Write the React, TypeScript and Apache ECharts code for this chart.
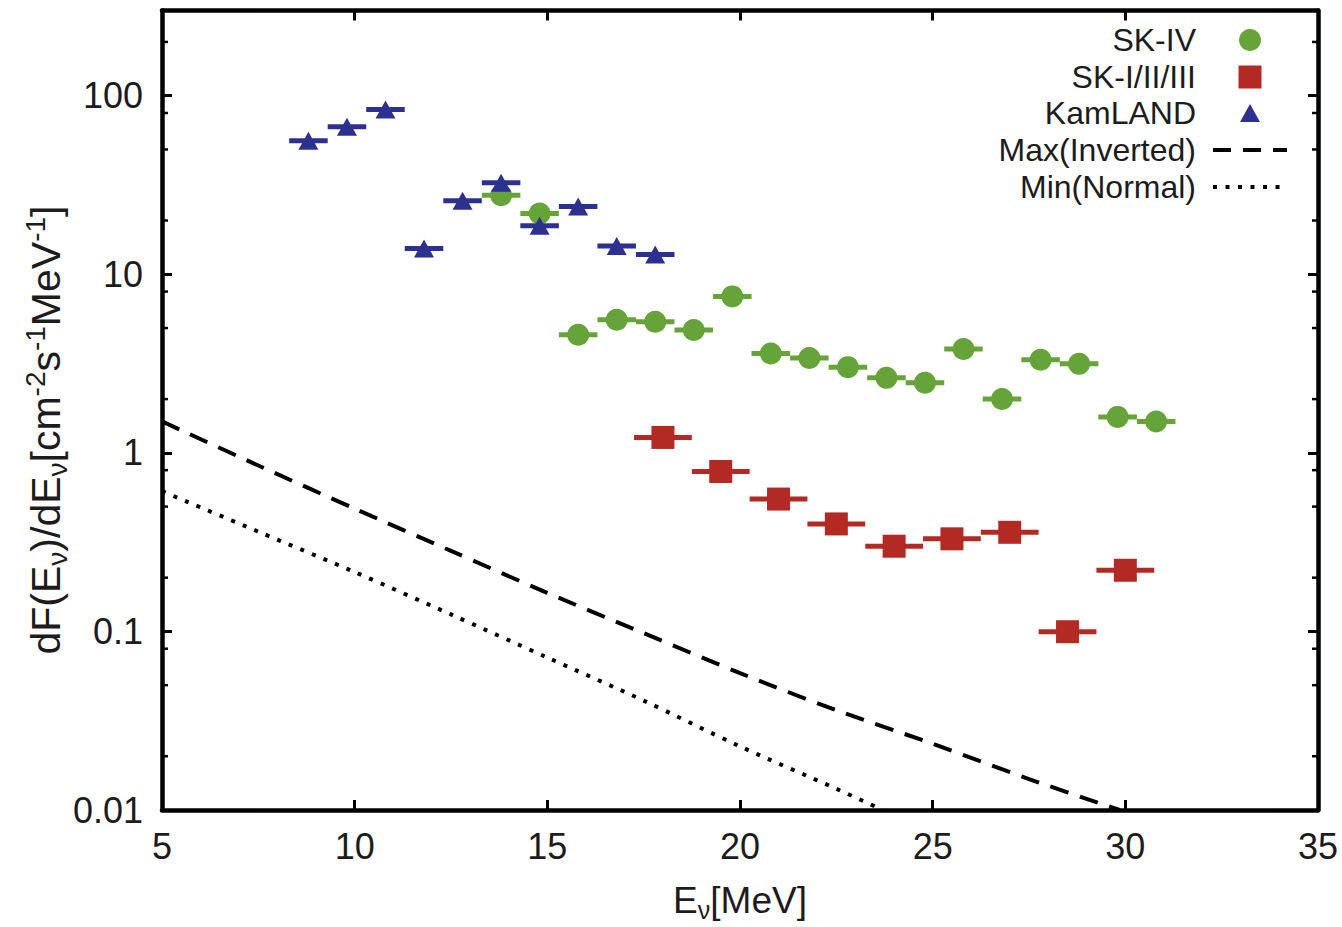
import React, { useEffect, useRef } from 'react';
import * as echarts from 'echarts';

// SK-IV bins (1 MeV wide)
const skIVEnergy = [13.8, 14.8, 15.8, 16.8, 17.8, 18.8, 19.8, 20.8, 21.8, 22.8, 23.8, 24.8, 25.8, 26.8, 27.8, 28.8, 29.8, 30.8];
const skIVFlux = [27.7, 21.9, 4.59, 5.57, 5.42, 4.87, 7.52, 3.6, 3.4, 3.02, 2.63, 2.47, 3.82, 2.0, 3.32, 3.15, 1.59, 1.5];
const skIVHalfBin = 0.5;

// SK-I/II/III bins (1.5 MeV wide)
const skOldEnergy = [18, 19.5, 21, 22.5, 24, 25.5, 27, 28.5, 30];
const skOldFlux = [1.22, 0.786, 0.551, 0.4, 0.3, 0.33, 0.359, 0.0996, 0.22];
const skOldHalfBin = 0.75;

// KamLAND bins (1 MeV wide)
const kamlandEnergy = [8.8, 9.8, 10.8, 11.8, 12.8, 13.8, 14.8, 15.8, 16.8, 17.8];
const kamlandFlux = [56.0, 67.0, 83.8, 13.96, 25.8, 32.5, 18.7, 24.0, 14.4, 12.9];
const kamlandHalfBin = 0.5;

// Predicted spectra
const maxInvEnergy = [5, 7.5, 10, 12.5, 15, 17.5, 20, 22.5, 25, 27.5, 29.85];
const maxInvFlux = [1.5, 0.849, 0.487, 0.2826, 0.1644, 0.0978, 0.0584, 0.0362, 0.0235, 0.0149, 0.01];
const minNormEnergy = [5, 7.5, 10, 12.5, 15, 17.5, 20, 22.5, 23.7];
const minNormFlux = [0.61, 0.362, 0.215, 0.1245, 0.0714, 0.041, 0.0227, 0.01315, 0.01];

// Axes
const xMin = 5;
const xMax = 35;
const xStep = 5;
const yMin = 0.01;
const yMax = 300;
const yDecades = [0.01, 0.1, 1, 10, 100];
const yTickLabels = ['0.01', '0.1', '1', '10', '100'];
const yMinorTicks = [0.02, 0.05, 0.08, 0.2, 0.5, 0.8, 2, 5, 8, 20, 50, 80, 200];

// Key entries
const keyLabels = ['SK-IV', 'SK-I/II/III', 'KamLAND', 'Max(Inverted)', 'Min(Normal)'];

const GREEN = '#66a43a';
const RED = '#b22a23';
const BLUE = '#2c3190';
const FONT = "'Liberation Sans', Arial, Helvetica, sans-serif";
const TEXT = '#1c1c1c';
const DASH = [19, 12];
const DOT = [4, 8.5];

function errorBars(name: string, xs: number[], ys: number[], half: number, color: string, z: number) {
  return {
    type: 'custom',
    name,
    z,
    silent: true,
    data: xs.map((x, i) => [x, ys[i]]),
    encode: { x: 0, y: 1 },
    renderItem: (_p: any, api: any) => {
      const x = api.value(0);
      const y = api.value(1);
      const a = api.coord([x - half, y]);
      const b = api.coord([x + half, y]);
      return {
        type: 'line',
        shape: { x1: a[0], y1: a[1], x2: b[0], y2: b[1] },
        style: { stroke: color, lineWidth: 5 },
      };
    },
  };
}

// Key drawn at the top right: right-aligned text, marker or line sample to its right
function buildKey() {
  const textRight = 1196;
  const iconCx = 1250;
  const rowY = [40, 77, 113, 150, 187];
  const items: any[] = keyLabels.map((label, i) => ({
    type: 'text',
    x: textRight,
    y: rowY[i],
    style: { text: label, fontSize: 32, fontFamily: FONT, fill: TEXT, align: 'right', verticalAlign: 'middle' },
  }));
  items.push(
    { type: 'circle', shape: { cx: iconCx, cy: rowY[0], r: 11 }, style: { fill: GREEN } },
    { type: 'rect', shape: { x: iconCx - 11.5, y: rowY[1] - 11.5, width: 23, height: 23 }, style: { fill: RED } },
    {
      type: 'polygon',
      shape: { points: [[iconCx - 10, rowY[2] + 9], [iconCx + 10, rowY[2] + 9], [iconCx, rowY[2] - 9]] },
      style: { fill: BLUE },
    },
    {
      type: 'line',
      shape: { x1: iconCx - 37, y1: rowY[3], x2: iconCx + 37, y2: rowY[3] },
      style: { stroke: '#000', lineWidth: 4, lineDash: [18, 12] },
    },
    {
      type: 'line',
      shape: { x1: iconCx - 37, y1: rowY[4], x2: iconCx + 35, y2: rowY[4] },
      style: { stroke: '#000', lineWidth: 4, lineDash: DOT },
    }
  );
  return items;
}

export default function App() {
  const ref = useRef<HTMLDivElement>(null);

  useEffect(() => {
    if (!ref.current) return;
    const chart = echarts.init(ref.current, undefined, { renderer: 'svg' });

    const axisLine = { show: true, onZero: false, lineStyle: { color: '#000', width: 4.5 } };
    const tick = { show: true, inside: true, length: 10, lineStyle: { color: '#000', width: 3 } };

    const yLabel = (v: number) => {
      const i = yDecades.findIndex((d) => Math.abs(Math.log10(d) - Math.log10(v)) < 1e-6);
      return i >= 0 ? yTickLabels[i] : '';
    };

    chart.setOption({
      animation: false,
      backgroundColor: '#fff',
      textStyle: { fontFamily: FONT },
      grid: { left: 162, right: 24, top: 10.5, bottom: 113.5 },
      xAxis: [
        {
          type: 'value',
          min: xMin,
          max: xMax,
          interval: xStep,
          position: 'bottom',
          axisLine,
          axisTick: tick,
          splitLine: { show: false },
          axisLabel: { fontSize: 36, color: TEXT, margin: 18, fontFamily: FONT },
          name: '{n|E}{s|ν}{n|[MeV]}',
          nameLocation: 'middle',
          nameGap: 68,
          nameTextStyle: {
            rich: {
              n: { fontSize: 37, lineHeight: 44, verticalAlign: 'middle', color: TEXT, fontFamily: FONT },
              s: { fontSize: 25, lineHeight: 25, verticalAlign: 'bottom', color: TEXT, fontFamily: FONT },
            },
          },
        },
        {
          type: 'value',
          min: xMin,
          max: xMax,
          interval: xStep,
          position: 'top',
          axisLine,
          axisTick: tick,
          splitLine: { show: false },
          axisLabel: { show: false },
        },
      ],
      yAxis: [
        {
          type: 'log',
          logBase: 10,
          min: yMin,
          max: yMax,
          position: 'left',
          axisLine,
          axisTick: tick,
          splitLine: { show: false },
          minorTick: { show: false },
          axisLabel: { fontSize: 36, color: TEXT, margin: 19, formatter: yLabel, fontFamily: FONT },
        },
        {
          type: 'log',
          logBase: 10,
          min: yMin,
          max: yMax,
          position: 'right',
          axisLine,
          axisTick: tick,
          splitLine: { show: false },
          axisLabel: { show: false },
        },
      ],
      graphic: [
        {
          type: 'text',
          x: 46,
          y: 430,
          rotation: Math.PI / 2,
          style: {
            text: '{n|dF(E}{s|ν}{n|)/dE}{s|ν}{n|[cm}{p|-2}{n|s}{p|-1}{n|MeV}{p|-1}{n|]}',
            align: 'center',
            verticalAlign: 'middle',
            rich: {
              n: { fontSize: 41, lineHeight: 50, verticalAlign: 'middle', fill: TEXT, fontFamily: FONT },
              s: { fontSize: 28, lineHeight: 28, verticalAlign: 'bottom', fill: TEXT, fontFamily: FONT },
              p: { fontSize: 28, lineHeight: 28, verticalAlign: 'top', fill: TEXT, fontFamily: FONT },
            },
          },
        },
        ...buildKey(),
      ],
      series: [
        {
          type: 'line',
          name: 'Max(Inverted)',
          data: maxInvEnergy.map((x, i) => [x, maxInvFlux[i]]),
          showSymbol: false,
          symbol: 'none',
          smooth: 0.3,
          z: 1,
          lineStyle: { color: '#000', width: 4, type: DASH, cap: 'butt' },
        },
        {
          type: 'line',
          name: 'Min(Normal)',
          data: minNormEnergy.map((x, i) => [x, minNormFlux[i]]),
          showSymbol: false,
          symbol: 'none',
          smooth: 0.3,
          z: 1,
          lineStyle: { color: '#000', width: 4, type: DOT, cap: 'butt' },
        },
        errorBars('SK-IV bins', skIVEnergy, skIVFlux, skIVHalfBin, GREEN, 2),
        {
          type: 'scatter',
          name: 'SK-IV',
          z: 3,
          symbol: 'circle',
          symbolSize: 22,
          itemStyle: { color: GREEN, opacity: 1 },
          data: skIVEnergy.map((x, i) => [x, skIVFlux[i]]),
        },
        errorBars('SK-I/II/III bins', skOldEnergy, skOldFlux, skOldHalfBin, RED, 4),
        {
          type: 'scatter',
          name: 'SK-I/II/III',
          z: 5,
          symbol: 'rect',
          symbolSize: 23,
          itemStyle: { color: RED, opacity: 1 },
          data: skOldEnergy.map((x, i) => [x, skOldFlux[i]]),
        },
        errorBars('KamLAND bins', kamlandEnergy, kamlandFlux, kamlandHalfBin, BLUE, 6),
        {
          type: 'scatter',
          name: 'KamLAND',
          z: 7,
          symbol: 'triangle',
          symbolSize: [20, 18],
          itemStyle: { color: BLUE, opacity: 1 },
          data: kamlandEnergy.map((x, i) => [x, kamlandFlux[i]]),
        },
        {
          type: 'custom',
          name: 'minor ticks',
          silent: true,
          z: 10,
          clip: false,
          data: yMinorTicks.map((v) => [xMin, v]),
          encode: { x: 0, y: 1 },
          renderItem: (_p: any, api: any) => {
            const v = api.value(1);
            const l = api.coord([xMin, v]);
            const r = api.coord([xMax, v]);
            return {
              type: 'group',
              children: [
                { type: 'line', shape: { x1: l[0], y1: l[1], x2: l[0] + 6, y2: l[1] }, style: { stroke: '#000', lineWidth: 2.5 } },
                { type: 'line', shape: { x1: r[0] - 6, y1: r[1], x2: r[0], y2: r[1] }, style: { stroke: '#000', lineWidth: 2.5 } },
              ],
            };
          },
        },
      ],
    });

    return () => chart.dispose();
  }, []);

  return (
    <div
      ref={ref}
      style={{ position: 'fixed', left: 0, top: 0, width: 1342, height: 927, background: '#fff' }}
    />
  );
}
